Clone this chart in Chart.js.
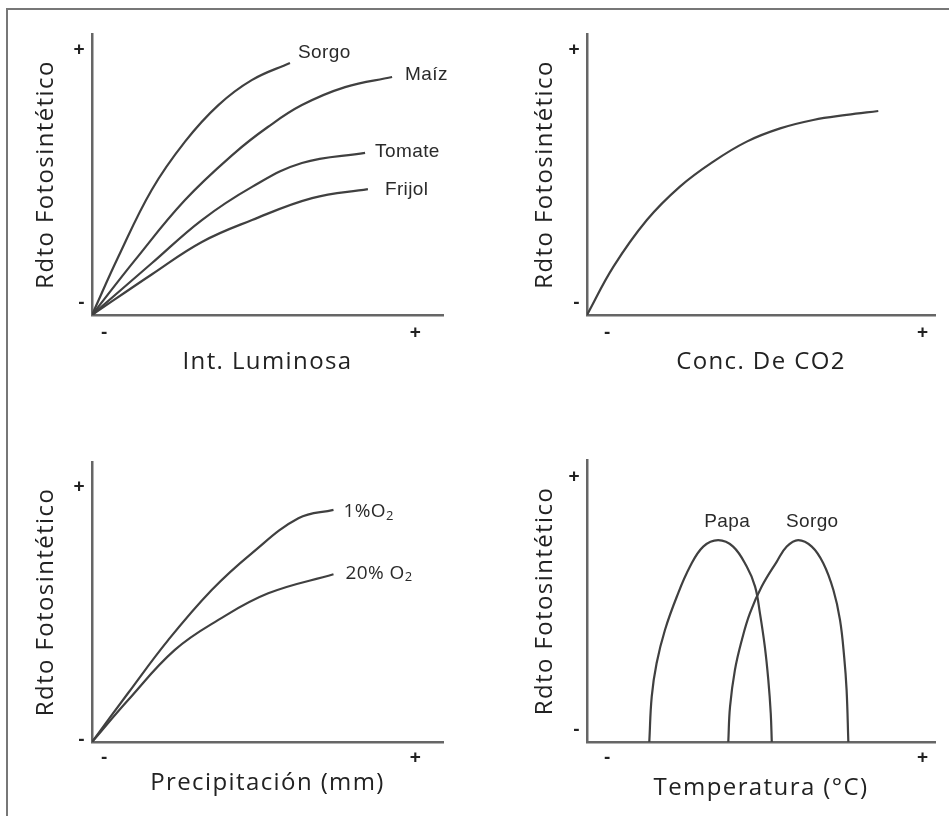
<!DOCTYPE html>
<html lang="es">
<head>
  <meta charset="UTF-8">
  <title>Rdto Fotosintético</title>
  <script src="https://cdn.jsdelivr.net/npm/chart.js"></script>
  <style>
    body { margin: 0; background: #fff; }
    #page { position: relative; width: 949px; height: 816px; overflow: hidden; }
    #frame {
      position: absolute; left: 6px; top: 8px; right: -10px; bottom: -10px;
      border-left: 2px solid #777; border-top: 2px solid #777;
    }
    canvas { position: absolute; }
  </style>
</head>
<body>
  <div id="page">
    <div id="frame"></div>
    <canvas id="luz" width="474" height="408" style="left:0;top:0"></canvas>
    <canvas id="co2" width="475" height="408" style="left:474px;top:0"></canvas>
    <canvas id="lluvia" width="474" height="408" style="left:0;top:408px"></canvas>
    <canvas id="temp" width="475" height="408" style="left:474px;top:408px"></canvas>
  </div>

  <script>
    // --- datos (escala relativa 0-100, sin unidades) ---
    const yTitle = 'Rdto Fotosintético';

    // Int. Luminosa
    const luzX = {
      sorgo:  [0, 7.5, 17.0, 26.5, 36.0, 45.5, 56.4],
      maiz:   [0, 12.3, 26.5, 40.7, 50.1, 59.8, 72.1, 85.5],
      tomate: [0, 17.1, 31.3, 45.6, 59.8, 77.8],
      frijol: [0, 17.1, 31.3, 45.6, 62.7, 78.6]
    };
    const luzY = {
      sorgo:  [0, 20.7, 44.5, 61.7, 74.7, 83.6, 89.7],
      maiz:   [0, 19.6, 40.9, 57.7, 66.9, 74.7, 81.1, 84.7],
      tomate: [0, 18.5, 33.8, 45.6, 54.1, 57.7],
      frijol: [0, 14.5, 26.0, 33.8, 41.6, 44.8]
    };

    // Conc. De CO2
    const co2X = [0, 7.6, 17.2, 26.7, 36.3, 45.9, 55.5, 65.0, 74.6, 83.7];
    const co2Y = [0, 17.2, 33.8, 45.7, 54.6, 61.7, 66.4, 69.4, 71.2, 72.6];

    // Precipitación
    const o2bajoX = [0, 10.3, 21.7, 34.1, 45.5, 58.8, 68.8];
    const o2bajoY = [0, 17.5, 36.4, 54.3, 67.4, 79.9, 82.9];
    const o2altoX = [0, 10.3, 23.6, 36.0, 50.2, 68.8];
    const o2altoY = [0, 15.0, 32.9, 43.6, 53.1, 59.9];

    // Temperatura
    const papaX  = [17.9, 18.6, 20.0, 22.4, 25.8, 29.6, 33.4, 37.7, 42.0, 45.9, 48.3, 49.7, 51.1, 52.1, 52.8, 53.1];
    const papaY  = [0, 16.1, 27.9, 39.7, 51.5, 62.2, 69.3, 71.6, 69.3, 62.2, 55.1, 45.6, 33.8, 22.0, 10.2, 0];
    const sorgoX = [40.6, 41.1, 42.5, 44.5, 46.8, 50.2, 54.5, 57.4, 60.7, 64.6, 67.9, 70.8, 72.7, 73.9, 74.6, 75.1];
    const sorgoY = [0, 12.5, 25.5, 36.2, 45.6, 55.1, 63.9, 69.3, 71.6, 69.3, 63.4, 53.9, 43.3, 30.2, 18.4, 0];

    // marcas de eje (+ / -)
    const signLabels = ['-', '+'];
    const luzTicksX = [3.7, 92.3],  luzTicksY = [4.3, 94.3];
    const co2TicksX = [6.0, 96.6],  co2TicksY = [4.3, 94.3];
    const pptTicksX = [3.7, 92.3],  pptTicksY = [0.7, 91.1];
    const tmpTicksX = [6.0, 96.6],  tmpTicksY = [4.3, 94.0];

    const pts = (xs, ys) => xs.map((x, i) => ({ x: x, y: ys[i] }));

    const LINE = '#404040';
    const AXIS = '#666';
    const TEXT = '#222';
    const titleFont = { family: '"Open Sans", sans-serif', size: 24 };
    const tickFont = { family: '"Liberation Sans", Arial, sans-serif', size: 19, weight: 'bold' };

    // títulos algo espaciados, como en el original
    const spacing = {
      id: 'spacing',
      beforeDraw(chart) { chart.ctx.letterSpacing = '1.4px'; }
    };

    // etiqueta junto a cada curva
    const curveLabels = {
      id: 'curveLabels',
      afterDatasetsDraw(chart) {
        const ctx = chart.ctx;
        chart.data.datasets.forEach((ds, i) => {
          if (!ds.tag) return;
          const el = chart.getDatasetMeta(i).data;
          const p = ds.tag.at === 'peak'
            ? el.reduce((a, b) => (b.y < a.y ? b : a))
            : el[el.length - 1];
          ctx.save();
          ctx.letterSpacing = '0.4px';
          ctx.fillStyle = '#2a2a2a';
          ctx.textBaseline = 'middle';
          ctx.font = ds.tag.font;
          let x = p.x + ds.tag.dx;
          const y = p.y + ds.tag.dy;
          const w = ctx.measureText(ds.label).width;
          if (ds.tag.align === 'center') x -= w / 2;
          ctx.fillText(ds.label, x, y);
          if (ds.tag.sub) {
            ctx.font = ds.tag.subFont;
            ctx.fillText(ds.tag.sub, x + w, y + 4);
          }
          ctx.restore();
        });
      }
    };

    function line(label, data, tag) {
      return {
        label: label, data: data, tag: tag,
        borderColor: LINE, borderWidth: 2.2, pointRadius: 0,
        tension: 0.4, fill: false
      };
    }

    function makeChart(id, datasets, box, ticksX, ticksY) {
      new Chart(document.getElementById(id), {
        type: 'scatter',
        data: { datasets: datasets.map(d => Object.assign(d, { showLine: true })) },
        options: {
          responsive: false,
          animation: false,
          events: [],
          layout: { padding: { top: box.top, right: box.right, left: 0, bottom: 0 } },
          plugins: { legend: { display: false }, tooltip: { enabled: false } },
          scales: {
            x: {
              type: 'linear', min: 0, max: 100,
              grid: { display: false, drawTicks: false },
              border: { display: true, color: AXIS, width: 2.5 },
              afterBuildTicks: s => { s.ticks = ticksX.map(v => ({ value: v })); },
              afterFit: s => { s.height = box.xh; },
              ticks: {
                autoSkip: false, maxRotation: 0, padding: box.xpad,
                color: '#222', font: tickFont,
                callback: (v, i) => signLabels[i]
              },
              title: {
                display: true, text: box.xTitle, color: TEXT, font: titleFont,
                padding: { top: 0, bottom: box.xTitlePad }
              }
            },
            y: {
              type: 'linear', min: 0, max: 100,
              grid: { display: false, drawTicks: false },
              border: { display: true, color: AXIS, width: 2.5 },
              afterBuildTicks: s => { s.ticks = ticksY.map(v => ({ value: v })); },
              afterFit: s => { s.width = box.yw; },
              ticks: {
                autoSkip: false, padding: 6,
                color: '#222', font: tickFont,
                callback: (v, i) => signLabels[i]
              },
              title: {
                display: true, text: yTitle, color: TEXT, font: titleFont,
                padding: { top: box.yTitlePad, bottom: 0 }
              }
            }
          }
        },
        plugins: [spacing, curveLabels]
      });
    }

    const arial = '19px "Liberation Sans", Arial, sans-serif';
    const calib = '19px "Open Sans", sans-serif';
    const calibSub = '13px "Open Sans", sans-serif';

    makeChart('luz', [
      line('Sorgo',  pts(luzX.sorgo,  luzY.sorgo),  { font: arial, dx: 8,  dy: -10 }),
      line('Maíz',   pts(luzX.maiz,   luzY.maiz),   { font: arial, dx: 13, dy: -2 }),
      line('Tomate', pts(luzX.tomate, luzY.tomate), { font: arial, dx: 10, dy: -1 }),
      line('Frijol', pts(luzX.frijol, luzY.frijol), { font: arial, dx: 17, dy: 1 })
    ], { top: 34, right: 31, yw: 92, xh: 93, xpad: 6, xTitle: 'Int. Luminosa', xTitlePad: 31, yTitlePad: 32 },
    luzTicksX, luzTicksY);

    makeChart('co2', [
      line('CO2', pts(co2X, co2Y), null)
    ], { top: 34, right: 14, yw: 113, xh: 93, xpad: 6, xTitle: 'Conc. De CO2', xTitlePad: 31, yTitlePad: 57 },
    co2TicksX, co2TicksY);

    makeChart('lluvia', [
      line('1%O',  pts(o2bajoX, o2bajoY), { font: calib, subFont: calibSub, sub: '2', dx: 10, dy: 2 }),
      line('20% O', pts(o2altoX, o2altoY), { font: calib, subFont: calibSub, sub: '2', dx: 12, dy: -1 })
    ], { top: 54, right: 31, yw: 92, xh: 74, xpad: 4, xTitle: 'Precipitación (mm)', xTitlePad: 18, yTitlePad: 32 },
    pptTicksX, pptTicksY);

    makeChart('temp', [
      line('Papa',  pts(papaX, papaY),   { font: arial, at: 'peak', align: 'center', dx: 9, dy: -18 }),
      line('Sorgo', pts(sorgoX, sorgoY), { font: arial, at: 'peak', align: 'center', dx: 14, dy: -18 })
    ], { top: 52, right: 14, yw: 113, xh: 74, xpad: 4, xTitle: 'Temperatura (°C)', xTitlePad: 13, yTitlePad: 57 },
    tmpTicksX, tmpTicksY);
  </script>
</body>
</html>
